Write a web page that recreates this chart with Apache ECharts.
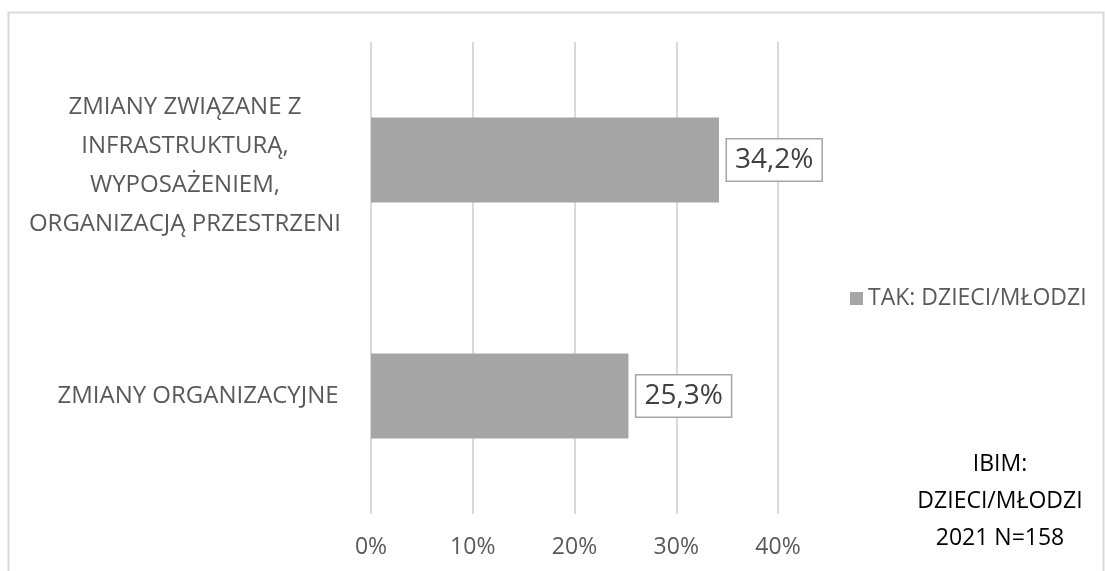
<!DOCTYPE html>
<html>
<head>
<meta charset="utf-8">
<script src="https://cdn.jsdelivr.net/npm/echarts@6/dist/echarts.min.js"></script>
<style>
  html, body { margin: 0; padding: 0; background: #fff; }
  #chart { width: 1105px; height: 571px; }
</style>
</head>
<body>
<div id="chart"></div>
<script>
// kategorie (od góry) i wartości w %
const categories = [
  'ZMIANY ZWIĄZANE Z\nINFRASTRUKTURĄ,\nWYPOSAŻENIEM,\nORGANIZACJĄ PRZESTRZENI',
  'ZMIANY ORGANIZACYJNE'
];
const values = [34.2, 25.3];
const seriesName = 'TAK: DZIECI/MŁODZI';
const xTicks = [0, 10, 20, 30, 40];
const note = 'IBIM:\nDZIECI/MŁODZI\n2021 N=158';

const font = 'Open Sans';
const catText = { fontFamily: font, fontSize: 24, lineHeight: 39, color: '#595959' };

// etykiety kategorii: pierwsza lekko niżej, druga lekko w prawo (jak w oryginale)
const catLabel = (value, index) => index === 0
  ? '{s| }\n' + value.split('\n').map(l => '{a|' + l + '}').join('\n')
  : '{b|' + value + '}';

const chart = echarts.init(document.getElementById('chart'));
chart.setOption({
  animation: false,
  textStyle: { fontFamily: font },
  grid: { left: 371, right: 327, top: 42, bottom: 57, outerBoundsMode: 'none' },
  legend: {
    data: [seriesName],
    left: 845, top: 282,
    icon: 'rect', itemWidth: 13, itemHeight: 13, itemGap: 8,
    textStyle: { fontFamily: font, fontSize: 23, color: '#595959' }
  },
  xAxis: {
    type: 'value',
    min: xTicks[0], max: xTicks[xTicks.length - 1], interval: 10,
    axisLine: { show: false },
    axisTick: { show: false },
    axisLabel: { formatter: '{value}%', fontSize: 23, color: '#595959', margin: 22 },
    splitLine: { lineStyle: { color: '#d9d9d9', width: 2 } }
  },
  yAxis: {
    type: 'category',
    inverse: true,
    data: categories,
    axisLine: { show: false },
    axisTick: { show: false },
    axisLabel: {
      align: 'center', margin: 186, formatter: catLabel,
      rich: {
        s: { fontSize: 1, lineHeight: 12 },
        a: catText,
        b: Object.assign({ padding: [0, 0, 0, 26] }, catText)
      }
    }
  },
  series: [{
    name: seriesName,
    type: 'bar',
    data: values,
    barWidth: '36%',
    itemStyle: { color: '#a5a5a5' },
    label: {
      show: true, position: 'right', distance: 8,
      formatter: p => p.value.toFixed(1).replace('.', ',') + '%',
      fontSize: 28, color: '#404040',
      backgroundColor: '#fff', borderColor: '#a6a6a6', borderWidth: 1.5,
      padding: [8, 8, 5, 8]
    }
  }],
  graphic: [
    {
      type: 'rect', silent: true,
      shape: { x: 8.5, y: 12.5, width: 1095, height: 570 },
      style: { fill: 'none', stroke: '#d9d9d9', lineWidth: 2 }
    },
    {
      type: 'text', x: 1000, y: 446,
      style: {
        text: note, align: 'center', verticalAlign: 'top',
        font: '23px "' + font + '"', lineHeight: 37, fill: '#000'
      }
    }
  ]
});
</script>
</body>
</html>
